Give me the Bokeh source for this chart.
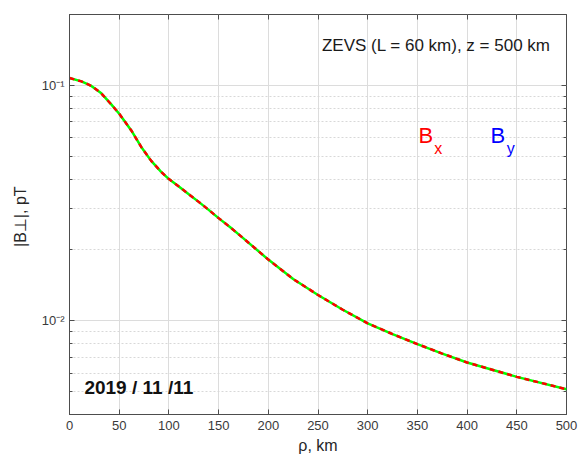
from bokeh.plotting import figure
from bokeh.models import Label, LinearAxis, LogAxis, FixedTicker, Range1d
from bokeh.embed import file_html
from bokeh.resources import INLINE

# data
rho = [0, 12, 22, 32, 42, 50, 62, 72, 82, 92, 100, 110, 120, 130, 140, 150, 162,
       175, 200, 225, 250, 275, 300, 325, 350, 375, 400, 450, 500]
bx = [0.1074, 0.1040, 0.0995, 0.0925, 0.0830, 0.0758, 0.0645, 0.0549, 0.0479,
      0.0430, 0.0400, 0.0372, 0.0345, 0.0320, 0.0296, 0.0273, 0.0249,
      0.0224, 0.0182, 0.01505, 0.01287, 0.01114, 0.00976, 0.00878, 0.00796,
      0.00726, 0.00665, 0.00578, 0.00512]
by = list(bx)

x_ticks = [0, 50, 100, 150, 200, 250, 300, 350, 400, 450, 500]
y_major = [0.01, 0.1]
y_minor = [0.004, 0.005, 0.006, 0.007, 0.008, 0.009,
           0.02, 0.03, 0.04, 0.05, 0.06, 0.07, 0.08, 0.09, 0.2]
y_labels = {0.01: "10\u207b\u00b2", 0.1: "10\u207b\u00b9"}

title_text = "ZEVS (L = 60 km), z = 500 km"
date_text = "2019 / 11 /11"

FONT = "Liberation Sans"
AX = "#4d4d4d"

p = figure(width=579, height=460, y_axis_type="log",
           x_range=Range1d(0, 500), y_range=Range1d(0.004, 0.2),
           output_backend="svg", toolbar_location=None,
           min_border_left=69, min_border_right=13,
           min_border_top=14, min_border_bottom=46)
p.background_fill_color = "white"
p.border_fill_color = "white"
p.outline_line_color = AX
p.outline_line_width = 1

# axes
xt = FixedTicker(ticks=x_ticks)
yt = FixedTicker(ticks=y_major, minor_ticks=y_minor)
for ax in p.xaxis:
    ax.ticker = xt
for ax in p.yaxis:
    ax.ticker = yt
    ax.major_label_overrides = y_labels

for ax in list(p.xaxis) + list(p.yaxis):
    ax.axis_line_color = AX
    ax.major_tick_line_color = AX
    ax.minor_tick_line_color = AX
    ax.major_tick_in = 5
    ax.major_tick_out = 0
    ax.minor_tick_in = 3
    ax.minor_tick_out = 0
    ax.major_label_text_font = FONT
    ax.major_label_text_font_size = "13px"
    ax.major_label_text_color = "#3a3a3a"
    ax.axis_label_text_font = FONT
    ax.axis_label_text_font_size = "16px"
    ax.axis_label_text_font_style = "normal"
    ax.axis_label_text_color = "#262626"

p.xaxis.minor_tick_line_color = None
p.xaxis.axis_label = "\u03c1, km"
p.xaxis.major_label_standoff = 6
p.xaxis.axis_label_standoff = 4
p.yaxis.axis_label = "|B\u22a5|,  pT"
p.yaxis.major_label_standoff = 5
p.yaxis.axis_label_standoff = 10

top = LinearAxis(ticker=xt, major_label_text_font_size="1px",
                 major_label_text_color=None,
                 axis_line_color=None, major_tick_line_color=AX,
                 major_tick_in=5, major_tick_out=0, minor_tick_line_color=None,
                 major_label_standoff=0)
p.add_layout(top, "above")
right = LogAxis(ticker=yt, major_label_text_font_size="1px",
                major_label_text_color=None,
                axis_line_color=None, major_tick_line_color=AX,
                minor_tick_line_color=AX,
                major_tick_in=5, major_tick_out=0, minor_tick_in=3,
                minor_tick_out=0, major_label_standoff=0)
p.add_layout(right, "right")

# grids
p.xgrid.ticker = xt
p.xgrid.grid_line_color = "#dcdcdc"
p.ygrid.ticker = yt
p.ygrid.grid_line_color = "#dcdcdc"
p.ygrid.minor_grid_line_color = "#d8d8d8"
p.ygrid.minor_grid_line_dash = "2 2"

# curves
p.line(rho, by, line_color="#00ff00", line_width=2.5)
p.line(rho, bx, line_color="#ff0000", line_width=2.5, line_dash="5 4")

# texts
p.add_layout(Label(x=254, y=0.1476, text=title_text, text_font=FONT,
                   text_font_size="17px", text_color="#1a1a1a",
                   text_baseline="alphabetic"))
p.add_layout(Label(x=15, y=0.00519, text=date_text, text_font=FONT,
                   text_font_size="19px", text_font_style="bold",
                   text_color="#111111", text_baseline="alphabetic"))
p.add_layout(Label(x=351, y=0.0612, text="B", text_font=FONT,
                   text_font_size="22px", text_color="#ff0000",
                   text_baseline="alphabetic"))
p.add_layout(Label(x=367, y=0.0537, text="x", text_font=FONT,
                   text_font_size="16px", text_color="#ff0000",
                   text_baseline="alphabetic"))
p.add_layout(Label(x=423.5, y=0.0612, text="B", text_font=FONT,
                   text_font_size="22px", text_color="#0000ff",
                   text_baseline="alphabetic"))
p.add_layout(Label(x=440, y=0.0537, text="y", text_font=FONT,
                   text_font_size="16px", text_color="#0000ff",
                   text_baseline="alphabetic"))

open("out.html", "w").write(file_html(p, INLINE))
